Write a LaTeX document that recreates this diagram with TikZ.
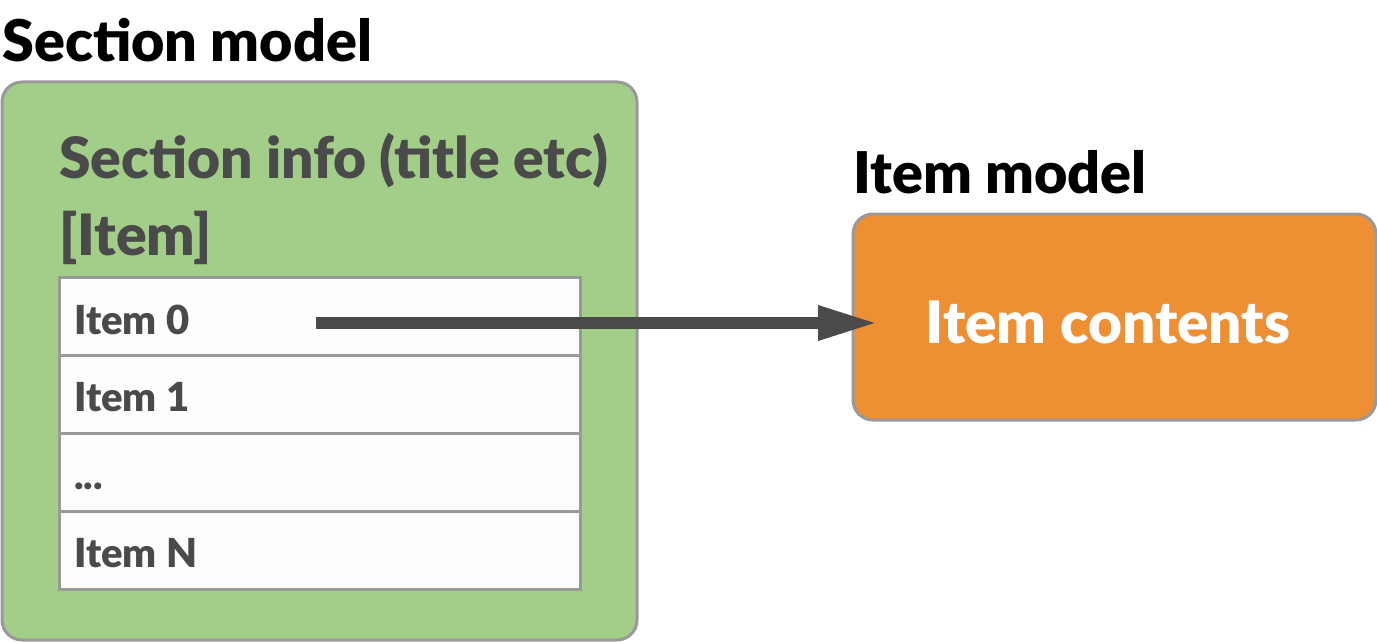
\documentclass[tikz,border=0pt]{standalone}
\usepackage{fontspec}
\setmainfont{Lato}[BoldFont={Lato Black}]
\usetikzlibrary{arrows.meta}
\definecolor{boxgreen}{HTML}{A3CE8A}
\definecolor{boxorange}{HTML}{EF8F33}
\definecolor{edgegrey}{HTML}{999999}
\definecolor{textgrey}{HTML}{4A4A4A}
\definecolor{cellwhite}{HTML}{FDFDFB}
\tikzset{
  title/.style={anchor=base west, inner sep=0pt, font=\fontsize{57.5}{60}\selectfont\bfseries, text=black},
  info/.style={anchor=base west, inner sep=0pt, font=\fontsize{57}{60}\selectfont\bfseries, text=textgrey},
  cell/.style={draw=edgegrey, line width=3pt, fill=cellwhite},
  celltext/.style={anchor=base west, inner sep=0pt, font=\fontsize{40}{44}\selectfont\bfseries, text=textgrey},
  frame/.style={draw=edgegrey, line width=3pt, rounded corners=20pt},
}
\begin{document}
\begin{tikzpicture}[x=1pt,y=-1pt]
\useasboundingbox (0,0) rectangle (1377,642);
% section model
\node[title] (sectitle) at (2,62) {Section model};
\draw[frame, fill=boxgreen] (2,82) rectangle (637,640);
\node[info] (secinfo) at (59,178) {Section info (title etc)};
\node[info] (itemlist) at (59,255) {[Item]};
\draw[cell] (59,277) rectangle (580,355);
\draw[cell] (59,355) rectangle (580,433);
\draw[cell] (59,433) rectangle (580,511);
\draw[cell] (59,511) rectangle (580,589);
\node[celltext] (item0) at (74,334) {Item 0};
\node[celltext] (item1) at (74,411) {Item 1};
\node[celltext] (itemdots) at (74,489) {...};
\node[celltext] (itemN) at (74,567) {Item N};
% item model
\node[title] (itemtitle) at (853,193) {Item model};
\draw[frame, fill=boxorange] (853,214) rectangle (1376,420);
\node[anchor=base, inner sep=0pt, font=\fontsize{58.5}{62}\selectfont\bfseries, text=white] (contents) at (1108,343) {Item contents};
% arrow
\coordinate (arrstart) at (316,323);
\coordinate (arrend) at (878,323);
\draw[textgrey, line width=12pt, -{Triangle[length=60pt,width=32pt]}] (arrstart) -- (arrend);
\end{tikzpicture}
\end{document}
